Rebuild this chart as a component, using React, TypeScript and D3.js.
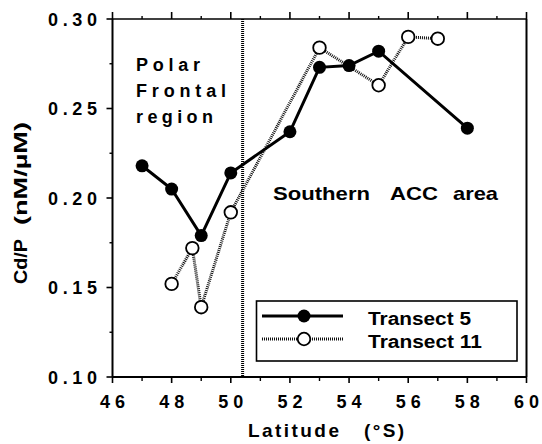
import React from "react";
import * as d3 from "d3";

// Cd/P ratio along two transects versus latitude (°S)
const t5Lat = [47, 48, 49, 50, 52, 53, 54, 55, 58];
const t5Val = [0.218, 0.205, 0.179, 0.214, 0.237, 0.273, 0.274, 0.282, 0.239];
const t11Lat = [48, 48.7, 49, 50, 53, 55, 56, 57];
const t11Val = [0.152, 0.172, 0.139, 0.192, 0.284, 0.263, 0.29, 0.289];

const xMajor = [46, 48, 50, 52, 54, 56, 58, 60];
const xMinor = [47, 49, 51, 53, 55, 57, 59];
const yMajor = [0.1, 0.15, 0.2, 0.25, 0.3];
const yMinor = [0.125, 0.175, 0.225, 0.275];
const frontLat = 50.4;

const W = 542;
const H = 444;
const FONT = "'Liberation Sans', Arial, Helvetica, sans-serif";

export default function App() {
  const x = d3.scaleLinear().domain([46, 60]).range([112.5, 526.5]);
  const y = d3.scaleLinear().domain([0.1, 0.3]).range([377, 19]);
  const line = d3
    .line<[number, number]>()
    .x((d) => x(d[0]))
    .y((d) => y(d[1]));
  const t5 = t5Lat.map((v, i) => [v, t5Val[i]] as [number, number]);
  const t11 = t11Lat.map((v, i) => [v, t11Val[i]] as [number, number]);

  const [x0, x1] = x.range();
  const [y0, y1] = y.range();

  return (
    <svg
      width={W}
      height={H}
      style={{ position: "absolute", left: 0, top: 0, background: "#fff" }}
      fontFamily={FONT}
      fontWeight="bold"
    >
      {/* frame */}
      <line x1={x0} x2={x0} y1={y1} y2={y0} stroke="#000" strokeWidth={2} />
      <line x1={x1} x2={x1} y1={y1} y2={y0} stroke="#000" strokeWidth={2} />
      <line x1={x0} x2={x1} y1={y0} y2={y0} stroke="#000" strokeWidth={2} />
      <line x1={x0} x2={x1} y1={y1} y2={y1} stroke="#000" strokeWidth={1.6} />

      {/* x ticks, bottom and top */}
      {xMajor.map((v) => (
        <g key={"xM" + v}>
          <line x1={x(v)} x2={x(v)} y1={y0} y2={y0 + 6} stroke="#000" strokeWidth={1.6} />
          <line x1={x(v)} x2={x(v)} y1={y1} y2={y1 - 7} stroke="#000" strokeWidth={1.6} />
          <text x={x(v)} y={408} fontSize={18} textAnchor="middle" textLength={25}>
            {String(v)}
          </text>
        </g>
      ))}
      {xMinor.map((v) => (
        <g key={"xm" + v}>
          <line x1={x(v)} x2={x(v)} y1={y0} y2={y0 + 4} stroke="#000" strokeWidth={1.4} />
          <line x1={x(v)} x2={x(v)} y1={y1} y2={y1 - 3} stroke="#000" strokeWidth={1.4} />
        </g>
      ))}

      {/* y ticks */}
      {yMajor.map((v) => (
        <g key={"yM" + v}>
          <line x1={x0 - 6} x2={x0} y1={y(v)} y2={y(v)} stroke="#000" strokeWidth={1.6} />
          <text x={48} y={y(v) + 6.5} fontSize={18} textLength={49}>
            {v.toFixed(2)}
          </text>
        </g>
      ))}
      {yMinor.map((v) => (
        <line key={"ym" + v} x1={x0 - 3} x2={x0} y1={y(v)} y2={y(v)} stroke="#000" strokeWidth={1.4} />
      ))}

      {/* front position */}
      <line
        x1={x(frontLat)}
        x2={x(frontLat)}
        y1={y1}
        y2={y0}
        stroke="#000"
        strokeWidth={3}
        strokeDasharray="1,1"
      />

      {/* series lines */}
      <path d={line(t11) ?? ""} fill="none" stroke="#111" strokeWidth={3} strokeDasharray="1,1" />
      <path d={line(t5) ?? ""} fill="none" stroke="#000" strokeWidth={3} />

      {/* markers */}
      {t11.map((d, i) => (
        <circle key={"o" + i} cx={x(d[0])} cy={y(d[1])} r={6.3} fill="#fff" stroke="#000" strokeWidth={1.8} />
      ))}
      {t5.map((d, i) => (
        <circle key={"f" + i} cx={x(d[0])} cy={y(d[1])} r={6.5} fill="#000" />
      ))}

      {/* region labels */}
      <g fontSize={18}>
        <text x={136} y={71} textLength={64}>Polar</text>
        <text x={136} y={97} textLength={90}>Frontal</text>
        <text x={136} y={123} textLength={77}>region</text>
      </g>
      <g fontSize={19} lengthAdjust="spacingAndGlyphs">
        <text x={273} y={200} textLength={97} lengthAdjust="spacingAndGlyphs">Southern</text>
        <text x={390} y={200} textLength={48} lengthAdjust="spacingAndGlyphs">ACC</text>
        <text x={453} y={200} textLength={45} lengthAdjust="spacingAndGlyphs">area</text>
      </g>

      {/* legend */}
      <rect x={256.5} y={301} width={260.5} height={60} fill="#fff" stroke="#000" strokeWidth={1.6} />
      <line x1={262} x2={343} y1={316} y2={316} stroke="#000" strokeWidth={3} />
      <circle cx={304} cy={316} r={6.5} fill="#000" />
      <line x1={262} x2={343} y1={339} y2={339} stroke="#111" strokeWidth={3} strokeDasharray="1,1" />
      <circle cx={304} cy={339} r={6.3} fill="#fff" stroke="#000" strokeWidth={1.8} />
      <g fontSize={18}>
        <text x={368} y={325} textLength={103} lengthAdjust="spacingAndGlyphs">Transect 5</text>
        <text x={368} y={348} textLength={114} lengthAdjust="spacingAndGlyphs">Transect 11</text>
      </g>

      {/* axis titles */}
      <g fontSize={19}>
        <text x={248} y={437} textLength={91}>Latitude</text>
        <text x={364} y={437} textLength={40}>(°S)</text>
      </g>
      <g transform="translate(27,0) rotate(-90)" fontSize={19}>
        <text x={-284} y={0} textLength={45} lengthAdjust="spacingAndGlyphs">Cd/P</text>
        <text x={-225} y={0} textLength={103} lengthAdjust="spacingAndGlyphs">(nM/µM)</text>
      </g>
    </svg>
  );
}
